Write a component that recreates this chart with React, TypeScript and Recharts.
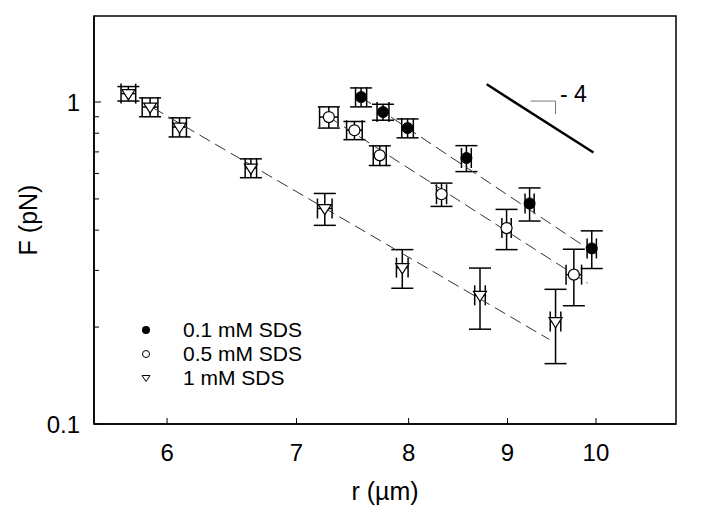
import React from 'react';
import {
  ComposedChart,
  Scatter,
  XAxis,
  YAxis,
  ErrorBar,
  ReferenceArea,
  ReferenceDot,
} from 'recharts';

// ---- data ----
const r01 = [7.56, 7.76, 7.99, 8.57, 9.24, 9.95];
const F01 = [1.036, 0.931, 0.83, 0.67, 0.484, 0.351];
const eF01 = [0.07, 0.053, 0.056, 0.062, 0.057, 0.047];
const er01 = [0.05, 0.055, 0.055, 0.05, 0.05, 0.055];

const r05 = [7.275, 7.5, 7.73, 8.32, 8.99, 9.74];
const F05 = [0.898, 0.817, 0.683, 0.517, 0.406, 0.291];
const eF05 = [0.068, 0.053, 0.048, 0.043, 0.058, 0.058];
const er05 = [0.08, 0.07, 0.06, 0.05, 0.05, 0.09];

const r1 = [5.73, 5.88, 6.09, 6.63, 7.24, 7.94, 8.71, 9.53];
const F1 = [1.062, 0.965, 0.836, 0.624, 0.467, 0.306, 0.251, 0.208];
const eF1 = [0.055, 0.065, 0.057, 0.042, 0.053, 0.042, 0.054, 0.054];
const er1 = [0.05, 0.055, 0.05, 0.045, 0.063, 0.055, 0.055, 0.06];

const fit01 = [
  { x: 7.56, y: 1.036 },
  { x: 10.02, y: 0.3345 },
];
const fit05 = [
  { x: 7.275, y: 0.898 },
  { x: 9.9, y: 0.274 },
];
const fit1 = [
  { x: 5.9, y: 0.96 },
  { x: 9.46, y: 0.183 },
];
const slopeLine = [
  { x: 8.78, y: 1.135 },
  { x: 9.97, y: 0.697 },
];
const slopeCorner = [
  { x: 9.25, y: 1.007 },
  { x: 9.53, y: 1.007 },
  { x: 9.53, y: 0.916 },
];
const slopeLabel = { x: 9.58, y: 1.062, text: '- 4' };

const xTicks = [6, 7, 8, 9, 10];
const yTicks = [0.1, 0.2, 0.3, 0.4, 0.5, 0.6, 0.7, 0.8, 0.9, 1];
const yLabeled = [0.1, 1];
const xDomain = [5.5, 11];
const yDomain = [0.1, 1.85];

const legendItems = [
  { name: '0.1 mM SDS', kind: 'filled' },
  { name: '0.5 mM SDS', kind: 'open' },
  { name: '1 mM SDS', kind: 'tri' },
];

const build = (r: number[], F: number[], eF: number[], er: number[]) =>
  r.map((x, i) => ({ x, y: F[i], ey: eF[i], ex: er[i] }));

const d01 = build(r01, F01, eF01, er01);
const d05 = build(r05, F05, eF05, er05);
const d1 = build(r1, F1, eF1, er1);

const FONT = '"Liberation Sans", Arial, Helvetica, sans-serif';

const FilledCircle = (p: any) => <circle cx={p.cx} cy={p.cy} r={5.5} fill="#000" stroke="#000" />;
const OpenCircle = (p: any) => (
  <circle cx={p.cx} cy={p.cy} r={5.5} fill="#fff" stroke="#000" strokeWidth={1.2} />
);
const Tri = (p: any) => {
  const s = 6.5;
  return (
    <path
      d={`M${p.cx - s},${p.cy - s * 0.6} L${p.cx + s},${p.cy - s * 0.6} L${p.cx},${p.cy + s * 0.95} Z`}
      fill="#fff"
      stroke="#000"
      strokeWidth={1.2}
    />
  );
};
const NoShape = () => <g />;

const XTick = (p: any) => {
  const { x, y, payload } = p;
  return (
    <g>
      <line x1={x} y1={y} x2={x} y2={y - 6} stroke="#000" strokeWidth={1} />
      <text x={x} y={y + 37} textAnchor="middle" fontSize={24} fontFamily={FONT} fill="#000">
        {payload.value}
      </text>
    </g>
  );
};

const YTick = (p: any) => {
  const { x, y, payload } = p;
  const v = payload.value;
  const labeled = yLabeled.some((t) => Math.abs(t - v) < 1e-9);
  return (
    <g>
      <line x1={x} y1={y} x2={x + (labeled ? 7 : 5)} y2={y} stroke="#000" strokeWidth={1} />
      {labeled && (
        <text x={x - 14} y={y + 8.5} textAnchor="end" fontSize={24} fontFamily={FONT} fill="#000">
          {v}
        </text>
      )}
    </g>
  );
};

const LegendSymbol = ({ kind }: { kind: string }) => (
  <svg width={16} height={16}>
    {kind === 'filled' && <circle cx={8} cy={8} r={4} fill="#000" />}
    {kind === 'open' && <circle cx={8} cy={8} r={3.5} fill="#fff" stroke="#000" strokeWidth={1} />}
    {kind === 'tri' && <path d="M4,5.5 L12,5.5 L8,11.5 Z" fill="#fff" stroke="#000" strokeWidth={1} />}
  </svg>
);

export default function App() {
  return (
    <div style={{ position: 'absolute', left: 0, top: 0, width: 708, height: 514, background: '#fff' }}>
      <ComposedChart
        width={708}
        height={514}
        margin={{ top: 16, right: 32, bottom: 0, left: 0 }}
      >
        <XAxis
          type="number"
          dataKey="x"
          scale="log"
          domain={xDomain}
          ticks={xTicks}
          allowDataOverflow
          height={90}
          tickSize={0}
          tickMargin={0}
          tick={<XTick />}
          axisLine={{ stroke: '#000', strokeWidth: 1.5 }}
          tickLine={false}
          label={{
            value: 'r (µm)',
            position: 'insideBottom',
            offset: 14,
            fontSize: 25,
            fontFamily: FONT,
            fill: '#000',
          }}
        />
        <YAxis
          type="number"
          dataKey="y"
          scale="log"
          domain={yDomain}
          ticks={yTicks}
          allowDataOverflow
          width={94}
          tickSize={0}
          tickMargin={0}
          tick={<YTick />}
          interval={0}
          axisLine={{ stroke: '#000', strokeWidth: 1.5 }}
          tickLine={false}
          label={{
            value: 'F (pN)',
            angle: -90,
            position: 'insideLeft',
            offset: 28,
            fontSize: 25,
            fontFamily: FONT,
            fill: '#000',
            style: { textAnchor: 'middle' },
          }}
        />
        <ReferenceArea
          x1={xDomain[0]}
          x2={xDomain[1]}
          y1={yDomain[0]}
          y2={yDomain[1]}
          fill="none"
          fillOpacity={0}
          stroke="#000"
          strokeWidth={1.5}
        />

        <Scatter
          data={fit1}
          shape={NoShape}
          line={{ stroke: '#333', strokeWidth: 1, strokeDasharray: '12 6' }}
          isAnimationActive={false}
        />
        <Scatter
          data={fit05}
          shape={NoShape}
          line={{ stroke: '#333', strokeWidth: 1, strokeDasharray: '12 6' }}
          isAnimationActive={false}
        />
        <Scatter
          data={fit01}
          shape={NoShape}
          line={{ stroke: '#333', strokeWidth: 1, strokeDasharray: '12 6' }}
          isAnimationActive={false}
        />
        <Scatter
          data={slopeLine}
          shape={NoShape}
          line={{ stroke: '#000', strokeWidth: 2.5 }}
          isAnimationActive={false}
        />
        <Scatter
          data={slopeCorner}
          shape={NoShape}
          line={{ stroke: '#777', strokeWidth: 1 }}
          isAnimationActive={false}
        />

        <Scatter data={d1} shape={Tri} isAnimationActive={false}>
          <ErrorBar dataKey="ey" direction="y" width={11} stroke="#000" strokeWidth={1.5} />
          <ErrorBar dataKey="ex" direction="x" width={10} stroke="#000" strokeWidth={1.5} />
        </Scatter>
        <Scatter data={d05} shape={OpenCircle} isAnimationActive={false}>
          <ErrorBar dataKey="ey" direction="y" width={11} stroke="#000" strokeWidth={1.5} />
          <ErrorBar dataKey="ex" direction="x" width={10} stroke="#000" strokeWidth={1.5} />
        </Scatter>
        <Scatter data={d01} shape={FilledCircle} isAnimationActive={false}>
          <ErrorBar dataKey="ey" direction="y" width={11} stroke="#000" strokeWidth={1.5} />
          <ErrorBar dataKey="ex" direction="x" width={10} stroke="#000" strokeWidth={1.5} />
        </Scatter>

        <ReferenceDot
          x={slopeLabel.x}
          y={slopeLabel.y}
          r={0}
          ifOverflow="visible"
          shape={(p: any) => (
            <text x={p.cx} y={p.cy + 8} fontSize={23} fontFamily={FONT} fill="#000">
              {slopeLabel.text}
            </text>
          )}
        />
      </ComposedChart>

      <div
        style={{
          position: 'absolute',
          left: 138,
          top: 318,
          fontFamily: FONT,
          fontSize: 21,
          color: '#000',
        }}
      >
        {legendItems.map((it) => (
          <div key={it.name} style={{ display: 'flex', alignItems: 'center', height: 24 }}>
            <LegendSymbol kind={it.kind} />
            <span style={{ marginLeft: 29, lineHeight: '24px', whiteSpace: 'nowrap' }}>{it.name}</span>
          </div>
        ))}
      </div>
    </div>
  );
}
